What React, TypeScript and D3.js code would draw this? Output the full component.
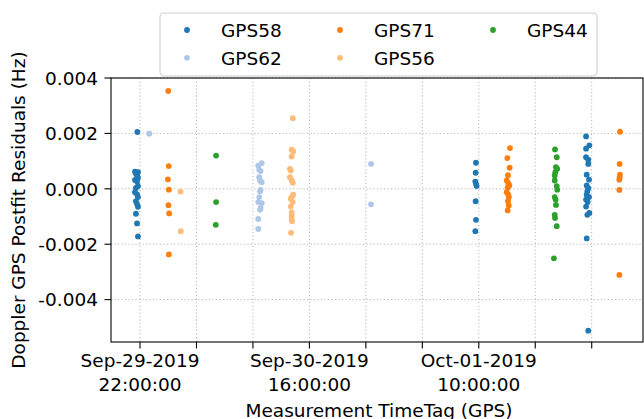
import React from "react";
import * as d3 from "d3";

// Doppler residuals per satellite: [GPS time (UTC), residual in Hz]
const gps58: [string, number][] = [
  ["2019-09-29T21:43", 0.00205], ["2019-09-29T21:28", 0.00062], ["2019-09-29T21:47", 0.0006],
  ["2019-09-29T21:34", 0.00055], ["2019-09-29T21:41", 0.00048], ["2019-09-29T21:47", 0.0004],
  ["2019-09-29T21:28", 0.00032], ["2019-09-29T21:41", 0.00026], ["2019-09-29T21:47", 0.0001],
  ["2019-09-29T21:34", 0.00003], ["2019-09-29T21:28", -0.00012], ["2019-09-29T21:41", -0.0002],
  ["2019-09-29T21:47", -0.0003], ["2019-09-29T21:34", -0.00045], ["2019-09-29T21:41", -0.00055],
  ["2019-09-29T21:47", -0.00065], ["2019-09-29T21:34", -0.0009], ["2019-09-29T21:41", -0.00125],
  ["2019-09-29T21:47", -0.00172],
  ["2019-10-01T09:42", 0.00094], ["2019-10-01T09:40", 0.00058], ["2019-10-01T09:38", 0.00026],
  ["2019-10-01T09:42", 0.00018], ["2019-10-01T09:46", 0.0001], ["2019-10-01T09:40", -0.00045],
  ["2019-10-01T09:42", -0.00112], ["2019-10-01T09:38", -0.00153],
  ["2019-10-01T21:24", 0.00189], ["2019-10-01T21:45", 0.00157], ["2019-10-01T21:24", 0.00145],
  ["2019-10-01T21:24", 0.00114], ["2019-10-01T21:38", 0.00105], ["2019-10-01T21:38", 0.0009],
  ["2019-10-01T21:28", 0.00051], ["2019-10-01T21:43", 0.00033], ["2019-10-01T21:28", 0.00012],
  ["2019-10-01T21:38", 0.00002], ["2019-10-01T21:32", -0.00009], ["2019-10-01T21:28", -0.00021],
  ["2019-10-01T21:43", -0.0003], ["2019-10-01T21:24", -0.00039], ["2019-10-01T21:34", -0.00048],
  ["2019-10-01T21:24", -0.00064], ["2019-10-01T21:45", -0.00087], ["2019-10-01T21:32", -0.00094],
  ["2019-10-01T21:28", -0.00179], ["2019-10-01T21:38", -0.00512],
];

const gps62: [string, number][] = [
  ["2019-09-29T22:59", 0.00199],
  ["2019-09-30T10:56", 0.00093], ["2019-09-30T10:34", 0.00084], ["2019-09-30T10:40", 0.00069],
  ["2019-09-30T10:49", 0.00064], ["2019-09-30T10:40", 0.00042], ["2019-09-30T10:45", 0.0003],
  ["2019-09-30T10:56", 0.00024], ["2019-09-30T10:49", -0.00004], ["2019-09-30T10:45", -0.00009],
  ["2019-09-30T10:40", -0.0003], ["2019-09-30T10:34", -0.00048], ["2019-09-30T10:56", -0.00052],
  ["2019-09-30T10:49", -0.00069], ["2019-09-30T10:45", -0.00076], ["2019-09-30T10:34", -0.00109],
  ["2019-09-30T10:34", -0.00145],
  ["2019-09-30T22:33", 0.0009], ["2019-09-30T22:33", -0.00056],
];

const gps71: [string, number][] = [
  ["2019-09-30T01:00", 0.00353], ["2019-09-30T01:03", 0.00082], ["2019-09-30T00:58", 0.00034],
  ["2019-09-30T01:04", -0.00003], ["2019-09-30T01:01", -0.00059], ["2019-09-30T01:06", -0.00089],
  ["2019-09-30T01:04", -0.00237],
  ["2019-10-01T13:19", 0.00147], ["2019-10-01T13:02", 0.00111], ["2019-10-01T13:17", 0.00076],
  ["2019-10-01T13:06", 0.00049], ["2019-10-01T12:58", 0.0003], ["2019-10-01T13:08", 0.0002],
  ["2019-10-01T13:15", 0.00012], ["2019-10-01T13:04", 0.00004], ["2019-10-01T12:58", -0.00012],
  ["2019-10-01T13:08", -0.00021], ["2019-10-01T13:12", -0.0003], ["2019-10-01T13:06", -0.00045],
  ["2019-10-01T13:11", -0.0006], ["2019-10-01T13:04", -0.00078],
  ["2019-10-02T01:00", 0.00206], ["2019-10-02T00:58", 0.0009], ["2019-10-02T01:00", 0.00051],
  ["2019-10-02T00:58", 0.0004], ["2019-10-02T00:56", 0.00033], ["2019-10-02T00:56", -0.00004],
  ["2019-10-02T00:56", -0.00311],
];

const gps56: [string, number][] = [
  ["2019-09-30T02:18", -0.0001], ["2019-09-30T02:20", -0.00153],
  ["2019-09-30T14:14", 0.00255], ["2019-09-30T14:07", 0.00141], ["2019-09-30T14:17", 0.00135],
  ["2019-09-30T14:07", 0.00117], ["2019-09-30T13:56", 0.00072], ["2019-09-30T14:01", 0.00066],
  ["2019-09-30T13:56", 0.00042], ["2019-09-30T14:07", 0.0003], ["2019-09-30T14:14", 0.00022],
  ["2019-09-30T14:17", -0.00021], ["2019-09-30T14:07", -0.0003], ["2019-09-30T14:01", -0.00036],
  ["2019-09-30T14:14", -0.00048], ["2019-09-30T14:01", -0.00064], ["2019-09-30T14:07", -0.00085],
  ["2019-09-30T14:07", -0.00097], ["2019-09-30T14:07", -0.00109], ["2019-09-30T14:09", -0.00117],
  ["2019-09-30T14:03", -0.00159],
];

const gps44: [string, number][] = [
  ["2019-09-30T06:05", 0.0012], ["2019-09-30T06:05", -0.00048], ["2019-09-30T06:03", -0.0013],
  ["2019-10-01T18:06", 0.00142], ["2019-10-01T18:17", 0.00114], ["2019-10-01T18:12", 0.00078],
  ["2019-10-01T18:20", 0.00072], ["2019-10-01T18:08", 0.0006], ["2019-10-01T18:04", 0.00048],
  ["2019-10-01T18:04", 0.0003], ["2019-10-01T18:17", 0.0001], ["2019-10-01T18:20", -0.00003],
  ["2019-10-01T18:04", -0.0003], ["2019-10-01T18:10", -0.00039], ["2019-10-01T18:12", -0.00058],
  ["2019-10-01T18:04", -0.00094], ["2019-10-01T18:06", -0.00105], ["2019-10-01T18:17", -0.00135],
  ["2019-10-01T17:59", -0.00251],
];

const seriesNames = ["GPS58", "GPS62", "GPS71", "GPS56", "GPS44"];
const seriesData = [gps58, gps62, gps71, gps56, gps44];
const seriesColors = ["#1f77b4", "#aec7e8", "#ff7f0e", "#ffbb78", "#2ca02c"];

const timeDomain = ["2019-09-29T18:55", "2019-10-02T03:27"];
const valueDomain = [-0.00553, 0.004];
const yTickValues = [-0.004, -0.002, 0, 0.002, 0.004];

const FONT = "DejaVu Sans, sans-serif";
const FS = 18.5;

const parseTime = d3.utcParse("%Y-%m-%dT%H:%M");
const fmtDate = d3.utcFormat("%b-%d-%Y");
const fmtClock = d3.utcFormat("%H:%M:%S");
const fmtValue = d3.formatLocale({
  decimal: ".",
  thousands: ",",
  grouping: [3],
  currency: ["", ""],
  minus: "-",
}).format(".3f");

export default function App() {
  const width = 644;
  const height = 419;
  const plot = { left: 111, right: 643, top: 78, bottom: 342 };

  const x = d3
    .scaleUtc()
    .domain(timeDomain.map((s) => parseTime(s) as Date))
    .range([plot.left, plot.right]);
  const y = d3.scaleLinear().domain(valueDomain).range([plot.bottom, plot.top]);

  // 6-hour ticks aligned to 22:00, labelled every 18 hours
  const [t0, t1] = x.domain();
  const xTicks = d3.utcHour.range(t0, t1).filter((d) => d.getUTCHours() % 6 === 4);

  const r = 2.9;
  const grid = "#b0b0b0";

  return (
    <svg width={width} height={height} style={{ display: "block", position: "absolute", left: 0, top: 0 }}>
      <rect x={0} y={0} width={width} height={height} fill="#ffffff" />

      {/* grid */}
      <g stroke={grid} strokeWidth={1} strokeDasharray="1.1,2.4">
        {xTicks.map((d, i) => (
          <line key={"gx" + i} x1={x(d)} x2={x(d)} y1={plot.top} y2={plot.bottom} />
        ))}
        {yTickValues.map((v, i) => (
          <line key={"gy" + i} x1={plot.left} x2={plot.right} y1={y(v)} y2={y(v)} />
        ))}
      </g>

      {/* points */}
      {seriesData.map((pts, si) => (
        <g key={seriesNames[si]} fill={seriesColors[si]}>
          {pts.map(([t, v], i) => (
            <circle key={i} cx={x(parseTime(t) as Date)} cy={y(v)} r={r} />
          ))}
        </g>
      ))}

      {/* frame */}
      <rect
        x={plot.left}
        y={plot.top}
        width={plot.right - plot.left}
        height={plot.bottom - plot.top}
        fill="none"
        stroke="#000"
        strokeWidth={1.1}
      />

      {/* x axis */}
      <g fontFamily={FONT} fontSize={FS} fill="#000" textAnchor="middle">
        {xTicks.map((d, i) => (
          <g key={"xt" + i}>
            <line x1={x(d)} x2={x(d)} y1={plot.bottom} y2={plot.bottom + 6.5} stroke="#000" strokeWidth={1.1} />
            {i % 3 === 0 && (
              <>
                <text x={x(d)} y={367}>{fmtDate(d)}</text>
                <text x={x(d)} y={391}>{fmtClock(d)}</text>
              </>
            )}
          </g>
        ))}
        <text x={(plot.left + plot.right) / 2 + 2} y={417}>Measurement TimeTag (GPS)</text>
      </g>

      {/* y axis */}
      <g fontFamily={FONT} fontSize={FS} fill="#000">
        {yTickValues.map((v, i) => (
          <g key={"yt" + i}>
            <line x1={plot.left - 6.5} x2={plot.left} y1={y(v)} y2={y(v)} stroke="#000" strokeWidth={1.1} />
            <text x={plot.left - 13} y={y(v) + 6.7} textAnchor="end">{fmtValue(v)}</text>
          </g>
        ))}
        <text
          transform={`translate(25, ${(plot.top + plot.bottom) / 2}) rotate(-90)`}
          textAnchor="middle"
        >
          Doppler GPS Postfit Residuals (Hz)
        </text>
      </g>

      {/* legend */}
      <g fontFamily={FONT} fontSize={FS}>
        <rect x={160} y={13} width={437} height={63} rx={4} fill="#fff" fillOpacity={0.8} stroke="#cccccc" strokeWidth={1.1} />
        {seriesNames.map((name, i) => {
          const col = Math.floor(i / 2);
          const row = i % 2;
          const cx = 187 + col * 153;
          const cy = 30 + row * 27.8;
          return (
            <g key={"lg" + name}>
              <circle cx={cx} cy={cy} r={r} fill={seriesColors[i]} />
              <text x={cx + 34} y={cy + 6.7} fill="#000">{name}</text>
            </g>
          );
        })}
      </g>
    </svg>
  );
}
